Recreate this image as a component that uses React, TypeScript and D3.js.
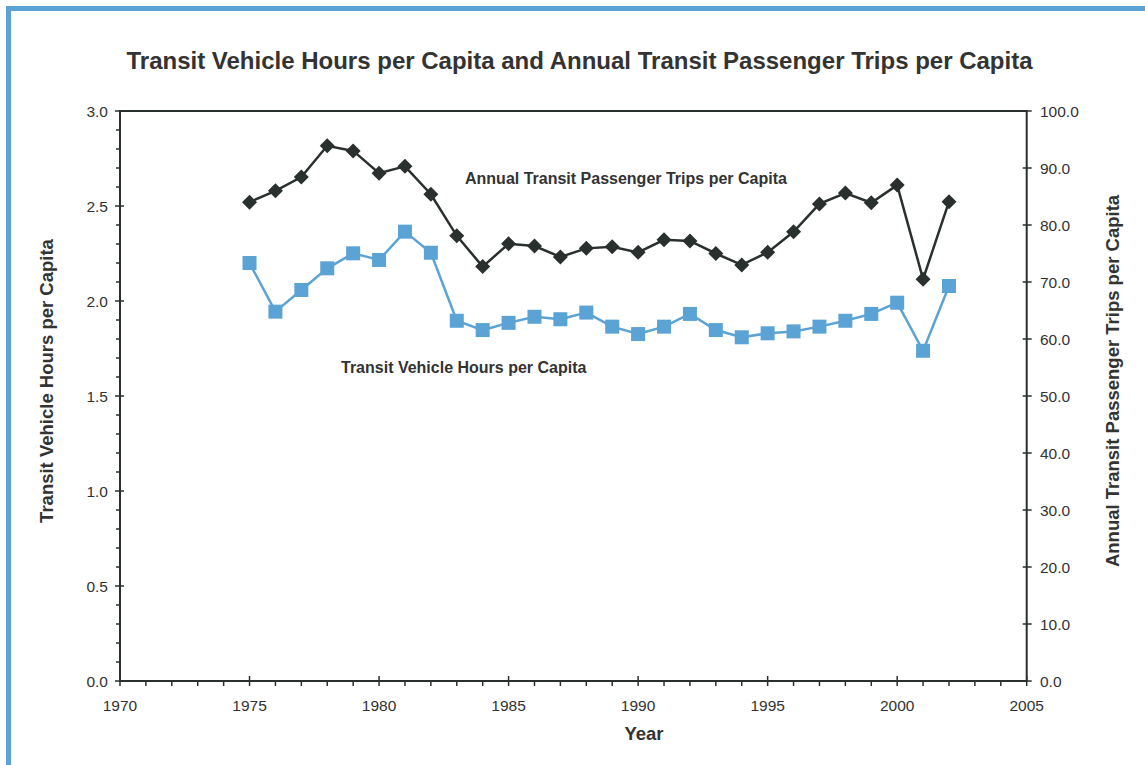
import React from "react";
import * as d3 from "d3";

const years = [1975,1976,1977,1978,1979,1980,1981,1982,1983,1984,1985,1986,1987,1988,1989,1990,1991,1992,1993,1994,1995,1996,1997,1998,1999,2000,2001,2002];
const vehicleHours = [2.20,1.944,2.058,2.172,2.251,2.216,2.365,2.254,1.896,1.847,1.885,1.917,1.904,1.939,1.865,1.826,1.865,1.932,1.847,1.809,1.83,1.84,1.865,1.896,1.932,1.991,1.738,2.079];
const passengerTrips = [84.0,86.0,88.4,93.9,93.0,89.1,90.3,85.4,78.1,72.7,76.7,76.3,74.4,75.9,76.2,75.2,77.4,77.2,75.0,73.0,75.2,78.8,83.7,85.6,83.9,87.0,70.5,84.1];

const xTicks = [1970,1975,1980,1985,1990,1995,2000,2005];
const leftTicks = [0,0.5,1,1.5,2,2.5,3];
const rightTicks = [0,10,20,30,40,50,60,70,80,90,100];

const title = "Transit Vehicle Hours per Capita and Annual Transit Passenger Trips per Capita";
const leftLabel = "Transit Vehicle Hours per Capita";
const rightLabel = "Annual Transit Passenger Trips per Capita";
const xLabel = "Year";

export default function App() {
  const W = 1145, H = 765;
  const L = 120, R = 1026.7, T = 111, B = 681;
  const x = d3.scaleLinear().domain([1970, 2005]).range([L, R]);
  const yL = d3.scaleLinear().domain([0, 3]).range([B, T]);
  const yR = d3.scaleLinear().domain([0, 100]).range([B, T]);
  const dark = "#2a302d";
  const blue = "#5ba3d5";
  const text = "#333";
  const font = "Liberation Sans, Arial, sans-serif";

  const lineL = d3.line<number>().x((_, i) => x(years[i])).y((d) => yL(d));
  const lineR = d3.line<number>().x((_, i) => x(years[i])).y((d) => yR(d));

  const minorYears = d3.range(1970, 2006).filter((y) => y % 5 !== 0);
  const minorLeft = d3.range(0, 31).map((v) => v / 10).filter((v, i) => i % 5 !== 0);

  const ds = 7.5;
  const sq = 7;
  const tickFs = 15.5;

  return (
    <svg width={W} height={H} style={{ position: "absolute", left: 0, top: 0, background: "#fff" }} fontFamily={font}>
      <rect x={8.5} y={8.5} width={W + 20} height={H + 20} fill="none" stroke={blue} strokeWidth={5} />
      <text x={579.5} y={69} textAnchor="middle" fontSize={24} fontWeight="bold" fill={text}>{title}</text>

      {/* frame */}
      <rect x={L} y={T} width={R - L} height={B - T} fill="none" stroke={dark} strokeWidth={2} />

      {/* x ticks */}
      {xTicks.map((t) => (
        <g key={"x" + t}>
          <line x1={x(t)} x2={x(t)} y1={B - 5} y2={B + 5} stroke={dark} strokeWidth={1.5} />
          <text x={x(t)} y={711} textAnchor="middle" fontSize={tickFs} fill={text}>{t}</text>
        </g>
      ))}
      {minorYears.map((t) => (
        <line key={"mx" + t} x1={x(t)} x2={x(t)} y1={B} y2={B + 5} stroke={dark} strokeWidth={1.5} />
      ))}

      {/* left ticks */}
      {leftTicks.map((t) => (
        <g key={"l" + t}>
          <line x1={L - 5} x2={L + 4} y1={yL(t)} y2={yL(t)} stroke={dark} strokeWidth={1.5} />
          <text x={108} y={yL(t) + 5.5} textAnchor="end" fontSize={tickFs} fill={text}>{t.toFixed(1)}</text>
        </g>
      ))}
      {minorLeft.map((t) => (
        <line key={"ml" + t} x1={L - 4} x2={L} y1={yL(t)} y2={yL(t)} stroke={dark} strokeWidth={1.5} />
      ))}

      {/* right ticks */}
      {rightTicks.map((t) => (
        <g key={"r" + t}>
          <line x1={R - 4} x2={R + 5} y1={yR(t)} y2={yR(t)} stroke={dark} strokeWidth={1.5} />
          <text x={1040} y={yR(t) + 5.5} textAnchor="start" fontSize={tickFs} fill={text}>{t.toFixed(1)}</text>
        </g>
      ))}

      <text x={644} y={740} textAnchor="middle" fontSize={18.5} fontWeight="bold" fill={text}>{xLabel}</text>
      <text transform={`translate(53,381) rotate(-90)`} textAnchor="middle" fontSize={18.5} fontWeight="bold" fill={text}>{leftLabel}</text>
      <text transform={`translate(1119,381) rotate(-90)`} textAnchor="middle" fontSize={18.5} fontWeight="bold" fill={text}>{rightLabel}</text>

      {/* series */}
      <path d={lineR(passengerTrips) || ""} fill="none" stroke={dark} strokeWidth={2.5} />
      {passengerTrips.map((v, i) => {
        const cx = x(years[i]), cy = yR(v);
        return <path key={"d" + i} d={`M${cx},${cy - ds}L${cx + ds},${cy}L${cx},${cy + ds}L${cx - ds},${cy}Z`} fill={dark} />;
      })}
      <path d={lineL(vehicleHours) || ""} fill="none" stroke={blue} strokeWidth={2.5} />
      {vehicleHours.map((v, i) => {
        const cx = x(years[i]), cy = yL(v);
        return <rect key={"s" + i} x={cx - sq} y={cy - sq} width={sq * 2} height={sq * 2} fill={blue} />;
      })}

      <text x={465} y={184} fontSize={16} fontWeight="bold" fill={text}>{rightLabel}</text>
      <text x={341} y={373} fontSize={16} fontWeight="bold" fill={text}>{leftLabel}</text>
    </svg>
  );
}
